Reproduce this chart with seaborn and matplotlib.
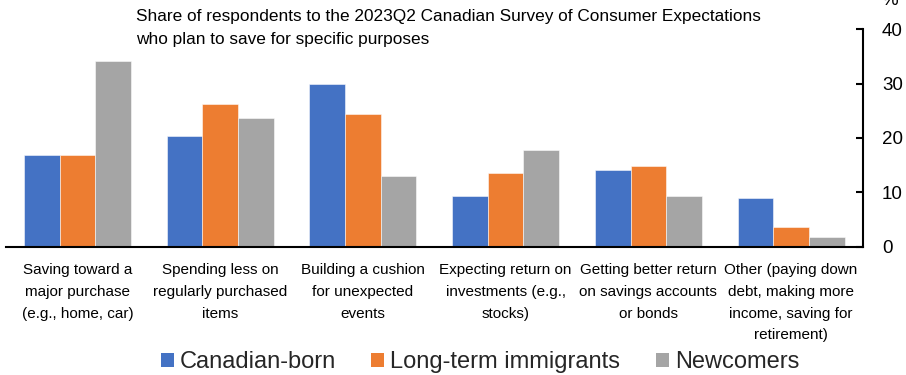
import matplotlib
matplotlib.use("Agg")
import matplotlib.pyplot as plt
from matplotlib import font_manager
from matplotlib.patches import Patch
import pandas as pd
import seaborn as sns

# Survey purposes (x categories)
categories = [
    "Saving toward a\nmajor purchase\n(e.g., home, car)",
    "Spending less on\nregularly purchased\nitems",
    "Building a cushion\nfor unexpected\nevents",
    "Expecting return on\ninvestments (e.g.,\nstocks)",
    "Getting better return\non savings accounts\nor bonds",
    "Other (paying down\ndebt, making more\nincome, saving for\nretirement)",
]
groups = ["Canadian-born", "Long-term immigrants", "Newcomers"]

# Share of respondents, %
canadian_born = [16.8, 20.3, 30.0, 9.3, 14.2, 8.9]
long_term_immigrants = [16.9, 26.2, 24.5, 13.5, 14.8, 3.6]
newcomers = [34.1, 23.6, 13.0, 17.8, 9.3, 1.7]

y_ticks = [0, 10, 20, 30, 40]
title = ("Share of respondents to the 2023Q2 Canadian Survey of Consumer Expectations\n"
         "who plan to save for specific purposes")

colors = ["#4472C4", "#ED7D31", "#A5A5A5"]

df = pd.DataFrame({
    "purpose": categories * 3,
    "group": [g for g in groups for _ in categories],
    "share": canadian_born + long_term_immigrants + newcomers,
})

sns.set_theme(style="white")
plt.rcParams["font.family"] = ["Liberation Sans", "DejaVu Sans"]

installed = {f.name for f in font_manager.fontManager.ttflist}
if "Liberation Sans Narrow" in installed:
    label_font = dict(family=["Liberation Sans Narrow", "DejaVu Sans"], size=13.4)
else:
    label_font = dict(family=["Liberation Sans", "DejaVu Sans"], size=11)

W, H = 906, 375
fig = plt.figure(figsize=(W / 100, H / 100), dpi=100)
ax = fig.add_axes([6 / W, (H - 246.7) / H, (862.5 - 6) / W, (246.7 - 29.3) / H])

sns.barplot(data=df, x="purpose", y="share", hue="group", hue_order=groups,
            palette=colors, width=0.75, saturation=1, legend=False,
            edgecolor=(1, 1, 1, 0.6), linewidth=0.6, ax=ax)

ax.set_xlim(-0.5, len(categories) - 0.5)
ax.set_ylim(0, 40)
ax.set_yticks(y_ticks)
ax.set_xlabel("")
ax.set_ylabel("")

for s in ["left", "top"]:
    ax.spines[s].set_visible(False)
for s in ["right", "bottom"]:
    ax.spines[s].set_visible(True)
    ax.spines[s].set_color("black")
    ax.spines[s].set_linewidth(1.5)

ax.yaxis.tick_right()
ax.tick_params(axis="y", direction="in", length=5, width=1.5, color="black",
               pad=14, labelsize=13.5, labelcolor="black", right=True, left=False)
ax.tick_params(axis="x", length=0, pad=12, labelcolor="black")
for lbl in ax.get_xticklabels():
    lbl.set_fontfamily(label_font["family"])
    lbl.set_fontsize(label_font["size"])
    lbl.set_linespacing(1.7)
    lbl.set_ha("center")

fig.text(136.5 / W, 1 - 9 / H, title, ha="left", va="top", fontsize=12.4,
         color="black", linespacing=1.65)
fig.text(881 / W, 1 - 5 / H, "%", ha="left", va="baseline", fontsize=13.5,
         color="black")

handles = [Patch(facecolor=c, edgecolor="none", label=g) for c, g in zip(colors, groups)]
fig.legend(handles=handles, loc="center", bbox_to_anchor=(480 / W, 13 / H), ncol=3,
           frameon=False, fontsize=17, handlelength=0.55, handleheight=0.55,
           handletextpad=0.25, columnspacing=1.5, borderpad=0, borderaxespad=0)

fig.savefig("out.png", dpi=100)
